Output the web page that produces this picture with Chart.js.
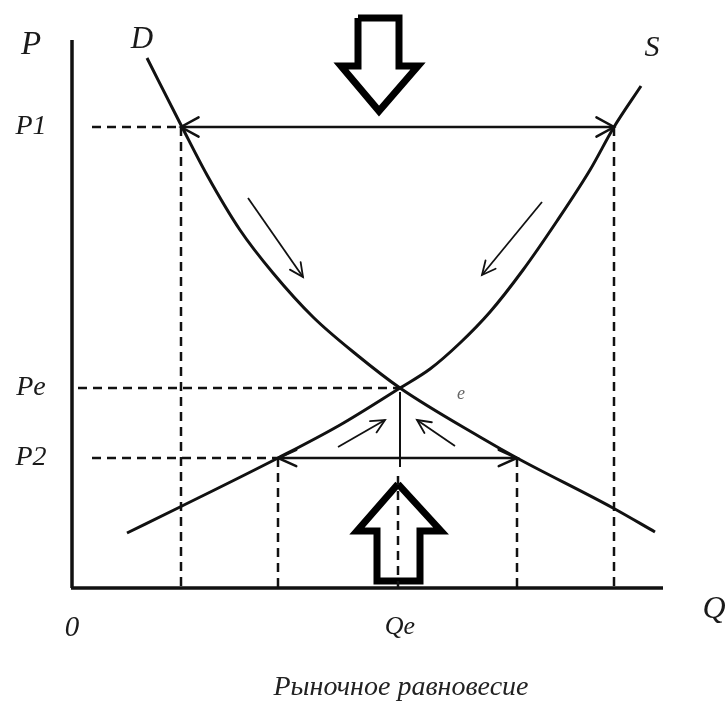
<!DOCTYPE html>
<html>
<head>
<meta charset="utf-8">
<script src="https://cdn.jsdelivr.net/npm/chart.js@4"></script>
<style>
    body { margin: 0; background: #fff; }
    #wrap { width: 727px; height: 702px; }
</style>
</head>
<body>
<div id="wrap"><canvas id="chart" width="727" height="702"></canvas></div>
<script>
// Quantity (Q) and price (P) values
const qMax = 591, pMax = 546;

// Demand curve D
const demandQ = [75, 110, 135, 168, 201, 241, 285, 328, 408, 445, 541, 583];
const demandP = [530, 461, 413, 358, 315, 271, 233, 200, 151, 130, 80, 56];

// Supply curve S
const supplyQ = [55, 108, 206, 268, 328, 358, 388, 418, 451, 485, 518, 542, 569];
const supplyP = [55, 81, 130, 163, 200, 219, 245, 276, 318, 367, 418, 461, 502];

// Price levels and quantities
const priceLabels = ['P1', 'Pe', 'P2'];
const priceValues = [461, 200, 130];
const qtyLabels = ['0', 'Qe'];
const qtyValues = [0, 328];
const qP1 = [109, 542];   // D and S at P1
const qP2 = [206, 445];   // S and D at P2

// Big hollow arrows (outline vertices)
const downArrowQ = [286, 327, 327, 346, 307, 269, 286, 286];
const downArrowP = [570, 570, 522, 522, 477, 522, 522, 570];
const upArrowQ = [326, 369, 348, 348, 305, 305, 285, 326];
const upArrowP = [104, 57, 57, 7, 7, 57, 57, 104];

// Small direction arrows [q0, p0, q1, p1]
const smallArrows = [
    [176, 390, 231, 311],
    [470, 386, 410, 313],
    [266, 141, 313, 168],
    [383, 142, 345, 168]
];

const pts = (qs, ps) => qs.map((q, i) => ({ x: q, y: ps[i] }));

function seg(q0, p0, q1, p1, extra) {
    return Object.assign({
        data: [{ x: q0, y: p0 }, { x: q1, y: p1 }],
        showLine: true, pointRadius: 0, borderColor: '#111', borderWidth: 2, clip: false
    }, extra || {});
}

const dashed = { borderDash: [9, 6], borderWidth: 2.5 };

const datasets = [
    // axes
    seg(0, 0, 0, pMax + 2, { borderWidth: 3.5 }),
    seg(-1, 0, qMax, 0, { borderWidth: 3.5 }),
    // dashed guides
    seg(20, priceValues[0], qP1[0], priceValues[0], dashed),
    seg(qP1[0], priceValues[0], qP1[0], 0, dashed),
    seg(qP1[1], priceValues[0], qP1[1], 0, dashed),
    seg(6, priceValues[1], qtyValues[1], priceValues[1], dashed),
    seg(20, priceValues[2], qP2[0], priceValues[2], dashed),
    seg(qP2[0], priceValues[2], qP2[0], 0, dashed),
    seg(qP2[1], priceValues[2], qP2[1], 0, dashed),
    seg(326, 112, 326, 0, dashed),
    // Qe solid drop
    seg(qtyValues[1], priceValues[1] - 4, qtyValues[1], 121, { borderWidth: 2 }),
    // double arrows (surplus / shortage)
    seg(qP1[0], priceValues[0], qP1[1], priceValues[0], { borderWidth: 2.5, heads: ['start', 'end'], headLen: 20, headAng: 0.5 }),
    seg(qP2[0], priceValues[2], qP2[1], priceValues[2], { borderWidth: 2.5, heads: ['start', 'end'], headLen: 20, headAng: 0.42 }),
    // curves
    {
        data: pts(demandQ, demandP), showLine: true, pointRadius: 0,
        borderColor: '#111', borderWidth: 3, cubicInterpolationMode: 'monotone', clip: false
    },
    {
        data: pts(supplyQ, supplyP), showLine: true, pointRadius: 0,
        borderColor: '#111', borderWidth: 3, cubicInterpolationMode: 'monotone', clip: false
    },
    // big hollow arrows
    {
        data: pts(downArrowQ, downArrowP), showLine: true, pointRadius: 0,
        borderColor: '#000', borderWidth: 7, borderJoinStyle: 'miter', clip: false
    },
    {
        data: pts(upArrowQ, upArrowP), showLine: true, pointRadius: 0,
        borderColor: '#000', borderWidth: 7, borderJoinStyle: 'miter', clip: false
    }
];

smallArrows.forEach(a => {
    datasets.push(seg(a[0], a[1], a[2], a[3], { borderWidth: 1.8, heads: ['end'], headLen: 15, headAng: 0.45 }));
});

// open chevron arrowheads at line ends
const arrowHeads = {
    id: 'arrowHeads',
    afterDatasetsDraw(chart) {
        const ctx = chart.ctx;
        chart.data.datasets.forEach((ds, i) => {
            if (!ds.heads) return;
            const el = chart.getDatasetMeta(i).data;
            ds.heads.forEach(h => {
                const tip = h === 'end' ? el[el.length - 1] : el[0];
                const from = h === 'end' ? el[el.length - 2] : el[1];
                const ang = Math.atan2(tip.y - from.y, tip.x - from.x);
                ctx.save();
                ctx.strokeStyle = ds.borderColor;
                ctx.lineWidth = ds.borderWidth;
                ctx.lineCap = 'round';
                ctx.beginPath();
                ctx.moveTo(tip.x - ds.headLen * Math.cos(ang - ds.headAng), tip.y - ds.headLen * Math.sin(ang - ds.headAng));
                ctx.lineTo(tip.x, tip.y);
                ctx.lineTo(tip.x - ds.headLen * Math.cos(ang + ds.headAng), tip.y - ds.headLen * Math.sin(ang + ds.headAng));
                ctx.stroke();
                ctx.restore();
            });
        });
    }
};

// axis names, level labels and caption
const labelsPlugin = {
    id: 'labelsPlugin',
    afterDraw(chart) {
        const ctx = chart.ctx;
        const x = chart.scales.x, y = chart.scales.y;
        const serif = '"Liberation Serif", "DejaVu Serif", serif';
        ctx.save();
        ctx.fillStyle = '#1a1a1a';
        ctx.textAlign = 'center';
        ctx.textBaseline = 'middle';
        ctx.font = 'italic 33px ' + serif;
        ctx.fillText('P', 31, y.getPixelForValue(pMax) + 3);
        ctx.font = 'italic 31px ' + serif;
        ctx.fillText('D', x.getPixelForValue(demandQ[0]) - 5, 40);
        ctx.font = 'italic 30px ' + serif;
        ctx.fillText('S', x.getPixelForValue(supplyQ[supplyQ.length - 1]) + 11, 48);
        ctx.font = 'italic 28px ' + serif;
        priceLabels.forEach((t, i) => ctx.fillText(t, 31, y.getPixelForValue(priceValues[i])));
        ctx.font = 'italic 29px ' + serif;
        ctx.fillText(qtyLabels[0], x.getPixelForValue(qtyValues[0]), 628);
        ctx.font = 'italic 26px ' + serif;
        ctx.fillText(qtyLabels[1], x.getPixelForValue(qtyValues[1]), 627);
        ctx.font = 'italic 32px ' + serif;
        ctx.fillText('Q', 714, 610);
        ctx.fillStyle = '#666';
        ctx.font = 'italic 18px ' + serif;
        ctx.fillText('e', x.getPixelForValue(qtyValues[1]) + 61, y.getPixelForValue(priceValues[1]) + 6);
        ctx.fillStyle = '#222';
        ctx.font = 'italic 28px ' + serif;
        ctx.fillText('Рыночное равновесие', 401, 688);
        ctx.restore();
    }
};

new Chart(document.getElementById('chart'), {
    type: 'scatter',
    data: { datasets: datasets },
    options: {
        responsive: false,
        animation: false,
        layout: { padding: { left: 72, top: 42, right: 64, bottom: 114 } },
        scales: {
            x: { type: 'linear', min: 0, max: qMax, display: false },
            y: { type: 'linear', min: 0, max: pMax, display: false }
        },
        plugins: { legend: { display: false }, tooltip: { enabled: false } }
    },
    plugins: [arrowHeads, labelsPlugin]
});
</script>
</body>
</html>
